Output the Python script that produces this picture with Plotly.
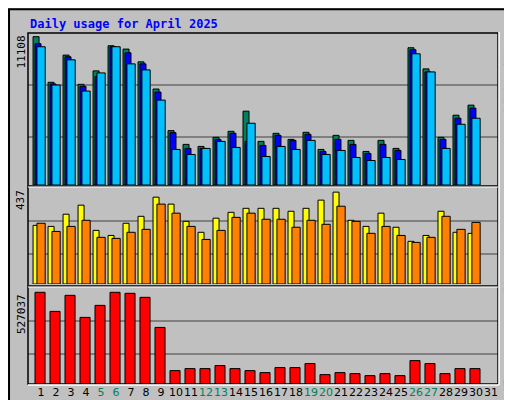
import plotly.graph_objects as go

days = list(range(1, 31))
all_days = list(range(1, 32))
weekend = [5, 6, 12, 13, 19, 20, 26, 27]
hits = [11108,7690,9726,7539,8545,10429,10178,9223,7187,4071,3041,2890,3569,4021,5529,3267,3870,3418,3946,2664,3719,3342,2513,3342,2739,10278,8695,3569,5227,5981]
files = [10580,7564,9600,7388,8117,10354,9901,9072,6961,3920,2739,2739,3418,3870,3267,2965,3719,3342,3795,2513,3418,3041,2362,3041,2588,10128,8469,3418,5001,5755]
pages = [10354,7489,9374,7036,8394,10354,9072,8620,6358,2664,2287,2739,3267,2815,4624,2136,2890,2664,3342,2287,2588,2061,1835,2061,1910,9826,8469,2739,4549,5001]
visits = [279,274,332,375,255,231,289,322,413,380,298,246,313,341,360,360,360,346,360,399,437,303,274,337,270,203,231,346,246,241]
sites = [289,250,274,303,222,217,246,260,380,337,274,212,255,317,337,308,308,270,303,284,370,298,241,274,231,198,222,322,260,293]
kbytes = [527037,417400,509700,382800,452000,527037,521300,498200,325100,76900,88500,88500,105800,88500,76900,65400,94300,94300,117300,53900,65400,59600,48100,59600,48100,134600,117300,59600,88500,88500]
max_hits, max_visits, max_kb = 11108, 437, 527037

fig = go.Figure()
line = dict(color="black", width=1)
def bar(y, color, off, w, ax):
    fig.add_trace(go.Bar(x=days, y=y, marker=dict(color=color, line=line), offset=off, width=w, yaxis=ax, hoverinfo="skip"))
bar(hits, "#00805c", -0.53, 0.4, "y")
bar(files, "#0000ff", -0.4, 0.4, "y")
bar(pages, "#00c0ff", -0.27, 0.55, "y")
bar(visits, "#ffff00", -0.53, 0.4, "y2")
bar(sites, "#ff8000", -0.27, 0.55, "y2")
bar(kbytes, "#ff0000", -0.4, 0.67, "y3")

r1, r2, r3 = max_hits * 1.018, max_visits * 1.045, max_kb * 1.047
def yax(dom, r):
    return dict(domain=dom, range=[0, r], tickvals=[r * 0.315, r * 0.66], showticklabels=False,
                gridcolor="#808080", gridwidth=1.5, zeroline=False, fixedrange=True)
ticktext = [f'<span style="color:{"#00805c" if d in weekend else "black"}">{d}</span>' for d in all_days]
fig.update_layout(
    width=512, height=400, margin=dict(l=0, r=0, t=0, b=0),
    paper_bgcolor="#c0c0c0", plot_bgcolor="#c0c0c0", barmode="overlay", showlegend=False,
    font=dict(family="DejaVu Sans Mono", size=11, color="black"),
    xaxis=dict(domain=[20/512, 490/512], range=[0.133, 31.47], tickvals=all_days, ticktext=ticktext,
               showgrid=False, zeroline=False, anchor="y3", ticks="", fixedrange=True, tickangle=0,
               automargin=False, tickfont=dict(family="DejaVu Sans", size=11)),
    yaxis=yax([223/400, 374/400], r1),
    yaxis2=yax([124/400, 220/400], r2),
    yaxis3=yax([24/400, 120/400], r3),
)
shapes = [
    dict(type="rect", xref="paper", yref="paper", x0=0.002, x1=0.998, y0=0.003, y1=0.997, line=dict(color="black", width=2)),
    dict(type="line", xref="paper", yref="paper", x0=3/512, x1=509/512, y0=6/400, y1=6/400, line=dict(color="#808080", width=3)),
    dict(type="line", xref="paper", yref="paper", x0=507/512, x1=507/512, y0=6/400, y1=397/400, line=dict(color="#808080", width=3)),
    dict(type="rect", xref="paper", yref="paper", x0=20/512, x1=490/512, y0=24/400, y1=375/400, line=dict(color="black", width=1.5)),
    dict(type="line", xref="paper", yref="paper", x0=491/512, x1=491/512, y0=23/400, y1=376/400, line=dict(color="white", width=1.5)),
    dict(type="line", xref="paper", yref="paper", x0=20/512, x1=491/512, y0=23/400, y1=23/400, line=dict(color="white", width=1.5)),
    dict(type="line", xref="paper", yref="paper", x0=20/512, x1=490/512, y0=222/400, y1=222/400, line=dict(color="black", width=1.5)),
    dict(type="line", xref="paper", yref="paper", x0=20/512, x1=490/512, y0=221/400, y1=221/400, line=dict(color="white", width=1)),
    dict(type="line", xref="paper", yref="paper", x0=20/512, x1=490/512, y0=122/400, y1=122/400, line=dict(color="black", width=1.5)),
    dict(type="line", xref="paper", yref="paper", x0=20/512, x1=490/512, y0=121/400, y1=121/400, line=dict(color="white", width=1)),
]
fig.update_layout(shapes=shapes)
def vt(text, x, ytop, color="black"):
    return dict(text=text, x=x/512, y=1-ytop/400, textangle=-90, xanchor="center", yanchor="top",
                font=dict(size=11, color=color))
ann = [
    dict(text="<b>Daily usage for April 2025</b>", x=20/512, y=1-16/400, xanchor="left", yanchor="middle",
         font=dict(family="DejaVu Sans Mono", size=12, color="#0000ff")),
    vt(str(max_hits), 13, 26), vt(str(max_visits), 13, 180), vt(str(max_kb), 13, 284),
    vt("Hits", 500, 27, "#00805c"), vt("/", 500, 53), vt("Files", 500, 62, "#0000ff"),
    vt("/", 500, 99), vt("Pages", 500, 108, "#00c0ff"),
    vt("Visits", 500, 198, "#ffff00"), vt("/", 500, 243), vt("Sites", 500, 251, "#ff8000"),
    vt("KBytes", 500, 341, "#ff0000"),
]
for a in ann:
    a.update(xref="paper", yref="paper", showarrow=False)
fig.update_layout(annotations=ann)
fig.write_html("out.html")
